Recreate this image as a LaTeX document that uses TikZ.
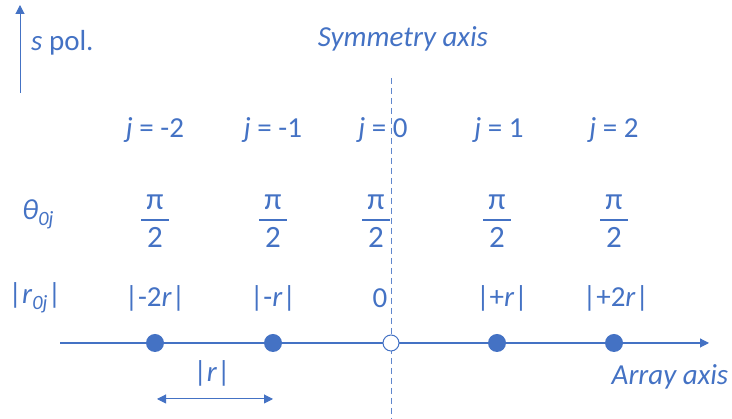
\documentclass[tikz,border=0pt]{standalone}
\usepackage{fontspec}
\setmainfont{Carlito}
\usetikzlibrary{arrows.meta, positioning}
\definecolor{axBlue}{HTML}{4472C4}
\newcommand{\halfpi}{{\fontsize{31}{36}\selectfont$\displaystyle{\mbox{\,π\,}\above2.2pt\mbox{2}}$}}
\tikzset{
  axisline/.style  = {axBlue, line width=1.1pt, -{Triangle[length=9pt, width=9pt]}},
  symline/.style   = {axBlue!85, line width=1pt, dash pattern=on 6pt off 4pt},
  elemdot/.style   = {circle, fill=axBlue, inner sep=0pt, minimum size=18pt},
  origdot/.style   = {circle, draw=axBlue, fill=white, line width=1pt,
                      inner sep=0pt, minimum size=16pt},
  lbl/.style       = {text=axBlue, font=\fontsize{29}{34}\selectfont, inner sep=0pt},
  ilbl/.style      = {lbl, font=\fontsize{29}{34}\selectfont\itshape},
}
\begin{document}
\begin{tikzpicture}[x=1pt, y=1pt]
  \useasboundingbox (0,0) rectangle (732,419);
  % polarisation arrow
  \coordinate (spolbot) at (20,326);
  \coordinate (spoltop) at (20,414);
  \draw[axisline, line width=1pt] (spolbot) -- (spoltop);
  \node[lbl, anchor=west] (spol) at (31,376) {\textit{s} pol.};
  % symmetry axis
  \node[ilbl] (symlbl) at (403,380) {Symmetry axis};
  \coordinate (symtop) at (391,341);
  \coordinate (symbot) at (391,0);
  \draw[symline] (symtop) -- (symbot);
  % index row
  \node[lbl] (jm2) at (155,289) {\textit{j} = -2};
  \node[lbl] (jm1) at (273,289) {\textit{j} = -1};
  \node[lbl] (j0)  at (383,289) {\textit{j} = 0};
  \node[lbl] (jp1) at (499,289) {\textit{j} = 1};
  \node[lbl] (jp2) at (614,289) {\textit{j} = 2};
  % angle row
  \node[lbl] (thlbl) at (38,205) {\textit{θ}\textsubscript{\raisebox{-2pt}{\textit{0j}}}};
  \node[lbl] (thm2) at (155,198) {\halfpi};
  \node[lbl] (thm1) at (273,198) {\halfpi};
  \node[lbl] (th0)  at (376,198) {\halfpi};
  \node[lbl] (thp1) at (497,198) {\halfpi};
  \node[lbl] (thp2) at (614,198) {\halfpi};
  % reflection row
  \node[lbl] (rlbl) at (35,121) {|\textit{r}\textsubscript{\raisebox{-2pt}{\textit{0j}}}|};
  \node[lbl] (rm2) at (155,121) {|-2\textit{r}|};
  \node[lbl] (rm1) at (273,121) {|-\textit{r}|};
  \node[lbl] (r0)  at (380,121) {0};
  \node[lbl] (rp1) at (502,121) {|+\textit{r}|};
  \node[lbl] (rp2) at (616,121) {|+2\textit{r}|};
  % array axis with elements
  \coordinate (axstart) at (60,76);
  \coordinate (axend) at (709,76);
  \draw[axisline] (axstart) -- (axend);
  \node[elemdot] (em2) at (155,76) {};
  \node[elemdot] (em1) at (273,76) {};
  \node[origdot] (e0)  at (391,76) {};
  \node[elemdot] (ep1) at (497,76) {};
  \node[elemdot] (ep2) at (614,76) {};
  \node[ilbl] (arrlbl) at (670,42) {Array axis};
  % spacing marker
  \coordinate (spl) at (157,20);
  \coordinate (spr) at (273,20);
  \draw[axisline, line width=1pt, {Triangle[length=9pt, width=9pt]}-{Triangle[length=9pt, width=9pt]}] (spl) -- (spr);
  \node[lbl] (splbl) at (212,46) {|\textit{r}|};
\end{tikzpicture}
\end{document}
